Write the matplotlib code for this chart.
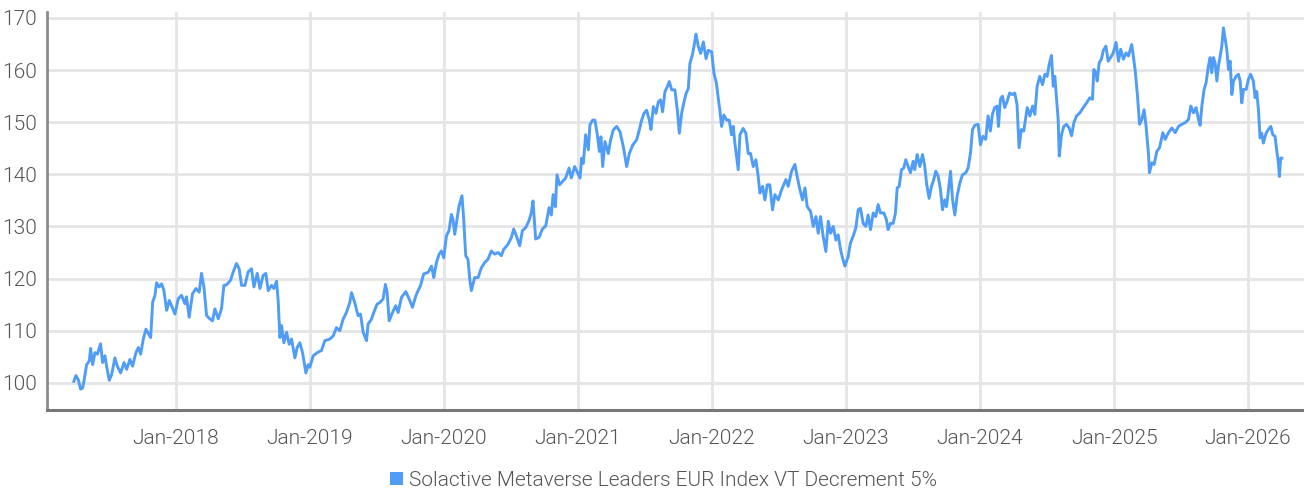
import pandas as pd
import matplotlib
matplotlib.use("Agg")
import matplotlib.pyplot as plt
import matplotlib.dates as mdates
from matplotlib.patches import Patch

# values (decimal year, index level)
years = [
    2017.238, 2017.253, 2017.271, 2017.288, 2017.303, 2017.313, 2017.333, 2017.353, 2017.363, 2017.378,
    2017.395, 2017.413, 2017.437, 2017.452, 2017.470, 2017.482, 2017.502, 2017.520, 2017.544, 2017.562,
    2017.587, 2017.612, 2017.632, 2017.656, 2017.676, 2017.701, 2017.719, 2017.736, 2017.756, 2017.776,
    2017.793, 2017.811, 2017.826, 2017.843, 2017.855, 2017.875, 2017.893, 2017.910, 2017.930, 2017.950,
    2017.975, 2017.992, 2018.017, 2018.042, 2018.067, 2018.079, 2018.099, 2018.124, 2018.149, 2018.174,
    2018.191, 2018.209, 2018.229, 2018.253, 2018.273, 2018.291, 2018.316, 2018.340, 2018.358, 2018.378,
    2018.408, 2018.428, 2018.452, 2018.472, 2018.490, 2018.515, 2018.539, 2018.564, 2018.582, 2018.607,
    2018.627, 2018.651, 2018.671, 2018.689, 2018.714, 2018.731, 2018.751, 2018.763, 2018.776, 2018.788,
    2018.806, 2018.826, 2018.845, 2018.863, 2018.888, 2018.905, 2018.925, 2018.945, 2018.970, 2018.987,
    2019.000, 2019.025, 2019.062, 2019.087, 2019.112, 2019.149, 2019.174, 2019.199, 2019.224, 2019.248,
    2019.273, 2019.298, 2019.311, 2019.335, 2019.360, 2019.378, 2019.398, 2019.423, 2019.435, 2019.460,
    2019.477, 2019.502, 2019.522, 2019.547, 2019.564, 2019.577, 2019.592, 2019.617, 2019.641, 2019.659,
    2019.684, 2019.716, 2019.741, 2019.766, 2019.791, 2019.808, 2019.825, 2019.850, 2019.883, 2019.908,
    2019.925, 2019.945, 2019.965, 2019.982, 2020.000, 2020.020, 2020.039, 2020.057, 2020.069, 2020.082,
    2020.099, 2020.114, 2020.136, 2020.149, 2020.164, 2020.181, 2020.194, 2020.206, 2020.231, 2020.256,
    2020.281, 2020.306, 2020.330, 2020.355, 2020.380, 2020.405, 2020.430, 2020.447, 2020.480, 2020.505,
    2020.522, 2020.542, 2020.567, 2020.587, 2020.612, 2020.636, 2020.654, 2020.666, 2020.686, 2020.711,
    2020.736, 2020.761, 2020.786, 2020.803, 2020.816, 2020.833, 2020.845, 2020.865, 2020.885, 2020.910,
    2020.935, 2020.952, 2020.977, 2020.995, 2021.015, 2021.027, 2021.039, 2021.057, 2021.077, 2021.089,
    2021.109, 2021.126, 2021.144, 2021.159, 2021.171, 2021.184, 2021.201, 2021.226, 2021.243, 2021.263,
    2021.288, 2021.313, 2021.338, 2021.363, 2021.383, 2021.408, 2021.437, 2021.457, 2021.475, 2021.492,
    2021.512, 2021.532, 2021.544, 2021.562, 2021.582, 2021.599, 2021.616, 2021.631, 2021.649, 2021.666,
    2021.681, 2021.699, 2021.723, 2021.741, 2021.756, 2021.773, 2021.791, 2021.806, 2021.823, 2021.835,
    2021.853, 2021.865, 2021.880, 2021.898, 2021.915, 2021.935, 2021.955, 2021.972, 2021.997, 2022.015,
    2022.034, 2022.047, 2022.059, 2022.072, 2022.089, 2022.109, 2022.129, 2022.146, 2022.159, 2022.171,
    2022.196, 2022.209, 2022.233, 2022.253, 2022.271, 2022.288, 2022.308, 2022.328, 2022.345, 2022.358,
    2022.378, 2022.395, 2022.413, 2022.432, 2022.452, 2022.470, 2022.495, 2022.519, 2022.552, 2022.569,
    2022.594, 2022.619, 2022.636, 2022.656, 2022.676, 2022.694, 2022.711, 2022.736, 2022.756, 2022.776,
    2022.793, 2022.810, 2022.830, 2022.850, 2022.868, 2022.885, 2022.905, 2022.925, 2022.942, 2022.960,
    2022.975, 2022.992, 2023.017, 2023.034, 2023.054, 2023.074, 2023.092, 2023.109, 2023.129, 2023.149,
    2023.166, 2023.184, 2023.204, 2023.223, 2023.241, 2023.258, 2023.283, 2023.303, 2023.315, 2023.333,
    2023.353, 2023.370, 2023.383, 2023.398, 2023.415, 2023.432, 2023.447, 2023.465, 2023.482, 2023.502,
    2023.514, 2023.532, 2023.552, 2023.572, 2023.589, 2023.602, 2023.621, 2023.639, 2023.656, 2023.671,
    2023.689, 2023.706, 2023.721, 2023.738, 2023.751, 2023.763, 2023.781, 2023.796, 2023.813, 2023.830,
    2023.850, 2023.870, 2023.895, 2023.912, 2023.930, 2023.945, 2023.962, 2023.987, 2024.005, 2024.024,
    2024.044, 2024.062, 2024.079, 2024.094, 2024.111, 2024.129, 2024.139, 2024.154, 2024.169, 2024.186,
    2024.204, 2024.223, 2024.243, 2024.261, 2024.278, 2024.293, 2024.310, 2024.328, 2024.354, 2024.374,
    2024.394, 2024.411, 2024.428, 2024.448, 2024.468, 2024.486, 2024.503, 2024.518, 2024.535, 2024.548,
    2024.560, 2024.573, 2024.585, 2024.593, 2024.610, 2024.627, 2024.647, 2024.667, 2024.685, 2024.702,
    2024.722, 2024.747, 2024.772, 2024.797, 2024.821, 2024.841, 2024.851, 2024.866, 2024.876, 2024.891,
    2024.908, 2024.921, 2024.941, 2024.958, 2024.976, 2024.996, 2025.015, 2025.033, 2025.050, 2025.070,
    2025.090, 2025.107, 2025.132, 2025.145, 2025.157, 2025.175, 2025.190, 2025.207, 2025.224, 2025.239,
    2025.257, 2025.264, 2025.282, 2025.299, 2025.319, 2025.339, 2025.364, 2025.381, 2025.406, 2025.431,
    2025.456, 2025.481, 2025.505, 2025.530, 2025.555, 2025.573, 2025.593, 2025.612, 2025.630, 2025.642,
    2025.655, 2025.672, 2025.687, 2025.704, 2025.717, 2025.729, 2025.742, 2025.754, 2025.767, 2025.779,
    2025.792, 2025.804, 2025.816, 2025.829, 2025.841, 2025.854, 2025.866, 2025.879, 2025.891, 2025.911,
    2025.928, 2025.941, 2025.953, 2025.966, 2025.986, 2026.003, 2026.020, 2026.040, 2026.053, 2026.065,
    2026.078, 2026.090, 2026.102, 2026.115, 2026.135, 2026.152, 2026.170, 2026.185, 2026.202, 2026.214,
    2026.227, 2026.234, 2026.244, 2026.252,
]
index_level = [
    100.3, 101.4, 100.6, 98.8, 99.0, 100.3, 103.5, 104.2, 106.6, 103.5,
    105.8, 105.5, 107.5, 103.9, 105.2, 103.2, 100.5, 101.6, 104.8, 103.2,
    101.9, 103.9, 102.6, 104.5, 103.2, 105.8, 106.8, 105.5, 108.4, 110.3,
    109.5, 108.7, 115.5, 116.8, 119.2, 118.4, 119.0, 117.7, 113.9, 115.8,
    114.3, 113.2, 116.1, 116.8, 115.2, 116.5, 112.6, 117.1, 118.1, 117.4,
    121.0, 118.4, 112.9, 112.3, 111.9, 114.2, 112.3, 114.2, 118.7, 118.8,
    119.7, 121.3, 122.9, 121.9, 118.7, 118.7, 121.3, 121.9, 118.4, 121.0,
    118.1, 120.6, 121.0, 117.7, 118.7, 118.1, 119.5, 115.8, 108.7, 111.0,
    107.7, 109.7, 107.4, 108.4, 104.8, 106.8, 107.7, 105.8, 101.9, 103.5,
    103.0, 105.2, 105.9, 106.2, 108.1, 108.4, 109.0, 110.6, 110.0, 112.2,
    113.5, 115.4, 117.3, 115.4, 112.9, 113.2, 109.7, 108.1, 111.3, 112.2,
    113.5, 115.1, 115.4, 116.1, 118.9, 117.3, 111.9, 113.5, 114.8, 113.5,
    116.4, 117.5, 116.1, 114.5, 116.7, 117.7, 118.6, 120.9, 121.2, 122.4,
    120.2, 123.1, 124.7, 125.3, 124.0, 128.2, 129.2, 132.3, 131.4, 128.5,
    131.4, 133.9, 135.9, 131.4, 124.4, 123.7, 119.9, 117.7, 120.2, 120.2,
    122.1, 123.1, 123.7, 125.3, 124.7, 125.0, 124.4, 125.6, 126.6, 127.9,
    129.5, 128.2, 126.3, 129.2, 129.8, 131.1, 132.7, 134.9, 127.6, 127.9,
    129.5, 130.1, 133.6, 132.2, 136.1, 133.8, 139.9, 138.0, 138.6, 139.3,
    141.2, 139.3, 141.5, 140.5, 139.3, 143.1, 142.1, 147.6, 144.7, 149.5,
    150.4, 150.4, 147.6, 144.4, 147.2, 141.5, 146.3, 144.0, 146.6, 148.5,
    149.2, 148.2, 145.3, 141.5, 144.0, 145.6, 146.6, 148.5, 150.4, 151.7,
    152.3, 150.4, 148.6, 153.0, 151.7, 153.9, 154.3, 152.0, 155.9, 156.8,
    157.8, 156.2, 156.2, 152.3, 147.9, 151.7, 153.9, 155.5, 156.5, 161.3,
    162.9, 164.5, 166.9, 164.5, 163.2, 165.4, 162.2, 163.8, 163.5, 159.4,
    157.4, 154.6, 152.3, 149.2, 151.4, 150.4, 150.4, 147.6, 149.2, 146.0,
    140.9, 147.6, 148.8, 147.9, 144.0, 144.0, 141.5, 142.8, 139.6, 136.4,
    137.7, 135.1, 138.0, 138.0, 133.2, 136.1, 135.1, 137.0, 139.0, 137.7,
    140.6, 141.9, 139.6, 137.1, 135.1, 137.4, 133.8, 132.9, 130.0, 131.9,
    128.7, 131.9, 128.1, 125.2, 131.0, 128.7, 130.0, 127.4, 128.4, 125.5,
    123.9, 122.4, 124.2, 126.8, 128.1, 129.7, 133.2, 133.5, 130.6, 130.0,
    132.2, 129.4, 132.6, 131.9, 134.2, 132.6, 132.6, 131.3, 129.4, 130.6,
    130.6, 132.6, 137.4, 137.7, 140.9, 141.2, 142.8, 141.5, 140.3, 142.5,
    140.9, 143.8, 141.5, 143.8, 141.5, 138.3, 135.4, 137.7, 139.0, 140.6,
    139.6, 137.1, 133.2, 135.1, 133.8, 136.4, 140.6, 135.1, 132.2, 135.8,
    138.3, 139.9, 140.3, 141.2, 144.1, 148.6, 149.4, 149.6, 145.7, 147.3,
    146.7, 151.2, 148.3, 151.5, 152.8, 153.1, 149.2, 154.4, 155.0, 152.8,
    154.0, 155.6, 155.3, 155.6, 153.4, 145.1, 148.6, 148.3, 152.8, 151.2,
    153.1, 151.5, 156.9, 158.8, 157.2, 159.2, 158.8, 161.1, 162.8, 156.9,
    158.8, 154.4, 150.5, 143.5, 147.6, 149.2, 149.6, 148.9, 147.4, 149.9,
    151.2, 151.8, 152.8, 153.7, 154.7, 154.4, 160.1, 159.5, 157.9, 161.4,
    162.1, 163.7, 164.6, 161.7, 162.4, 163.3, 165.3, 161.7, 164.0, 162.1,
    163.3, 162.7, 164.9, 162.4, 160.1, 155.0, 149.6, 150.5, 152.4, 149.2,
    143.8, 140.3, 142.2, 141.9, 144.4, 145.1, 148.0, 146.7, 148.0, 148.9,
    148.0, 149.2, 149.6, 149.9, 150.5, 153.1, 151.8, 152.8, 150.5, 149.4,
    153.1, 156.3, 157.6, 160.8, 162.4, 159.5, 162.4, 161.4, 157.9, 160.8,
    162.7, 164.6, 168.1, 165.9, 164.0, 160.1, 161.7, 155.3, 157.9, 158.8,
    159.2, 157.9, 153.7, 156.3, 156.3, 158.2, 159.2, 157.9, 154.7, 155.9,
    152.4, 147.0, 147.9, 146.0, 147.9, 148.6, 149.2, 147.6, 147.3, 144.7,
    142.2, 139.6, 143.1, 143.1,
]
y_ticks = [100, 110, 120, 130, 140, 150, 160, 170]
x_ticks = ["2018-01-01", "2019-01-01", "2020-01-01", "2021-01-01", "2022-01-01",
           "2023-01-01", "2024-01-01", "2025-01-01", "2026-01-01"]
series_name = "Solactive Metaverse Leaders EUR Index VT Decrement 5%"


def to_date(y):
    start = pd.Timestamp(int(y), 1, 1)
    return start + pd.Timedelta(days=(y - int(y)) * 365.25)


dates = [to_date(y) for y in years]

plt.rcParams["font.family"] = ["Roboto", "DejaVu Sans"]
plt.rcParams["font.weight"] = 300
line_color = "#4f9df6"
text_color = "#555555"

fig = plt.figure(figsize=(13.04, 4.92), dpi=100)
ax = fig.add_axes([0.036, 0.1667, 0.964, 0.809])
ax.plot(dates, index_level, color=line_color, linewidth=2.1, zorder=3)

ax.set_ylim(94.8, 171.15)
ax.set_xlim(to_date(2017.037), to_date(2026.418))
ax.set_yticks(y_ticks)
ax.set_xticks(pd.to_datetime(x_ticks))
ax.xaxis.set_major_formatter(mdates.DateFormatter("%b-%Y"))

ax.grid(True, color="#e5e5e5", linewidth=2.0, zorder=0)
ax.tick_params(length=0, labelsize=15, colors=text_color, pad=7)
ax.tick_params(axis="x", pad=14)
for s in ["top", "right"]:
    ax.spines[s].set_visible(False)
ax.spines["left"].set_color("#8c8c8c")
ax.spines["left"].set_linewidth(2)
ax.spines["bottom"].set_color("#777777")
ax.spines["bottom"].set_linewidth(2.2)

handle = Patch(facecolor=line_color, edgecolor="none")
fig.legend([handle], [series_name], loc="center", bbox_to_anchor=(0.509, 0.024),
           frameon=False, fontsize=15, labelcolor=text_color,
           handlelength=0.6, handleheight=0.6, handletextpad=0.3)

plt.savefig("out.png", dpi=100)
